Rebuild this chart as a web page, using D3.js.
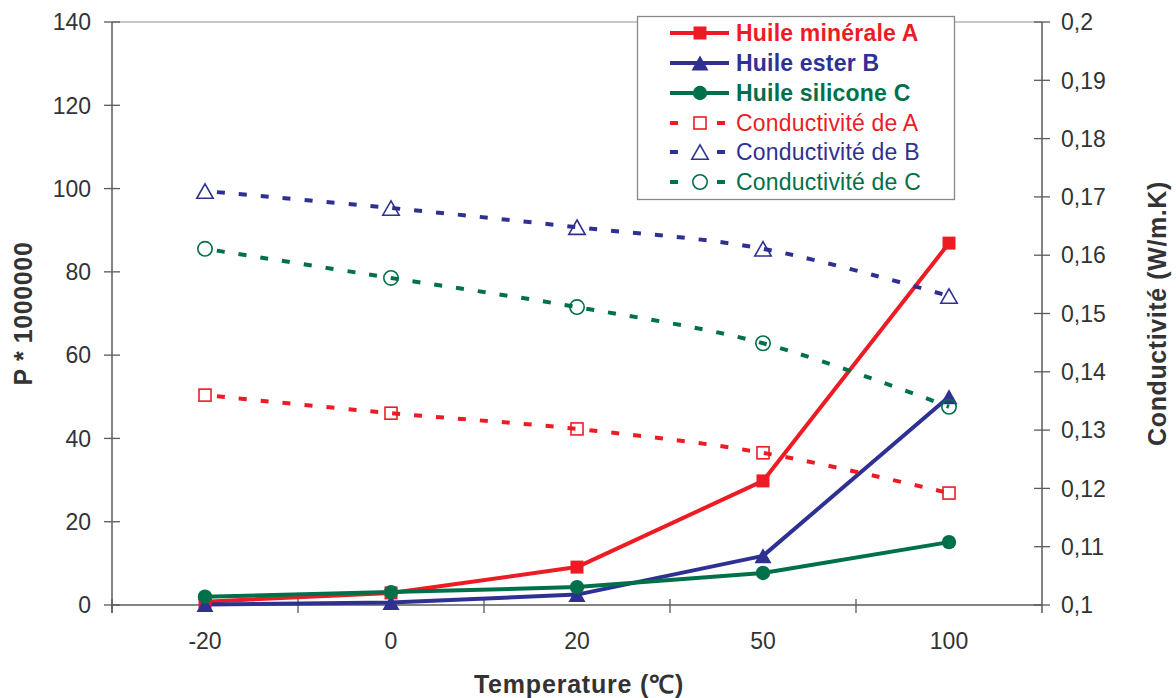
<!DOCTYPE html>
<html>
<head>
<meta charset="utf-8">
<script src="https://cdn.jsdelivr.net/npm/d3@7"></script>
<style>
  html, body { margin: 0; padding: 0; background: #fff; }
  svg { display: block; font-family: "Liberation Sans", Arial, sans-serif; }
</style>
</head>
<body>
<svg id="chart" width="1176" height="698"></svg>
<script>
// ---- data ----
const categories = ["-20", "0", "20", "50", "100"];
const huileMineraleA = [0.8, 2.9, 9.1, 29.8, 86.9];
const huileEsterB = [0.1, 0.6, 2.5, 11.8, 50.0];
const huileSiliconeC = [2.0, 3.1, 4.3, 7.7, 15.1];
const conductiviteA = [0.1360, 0.1329, 0.1302, 0.1261, 0.1192];
const conductiviteB = [0.1710, 0.1681, 0.1648, 0.1611, 0.1530];
const conductiviteC = [0.1611, 0.1561, 0.1511, 0.1449, 0.1340];
const leftTicks = [0, 20, 40, 60, 80, 100, 120, 140];
const rightTicks = [0.1, 0.11, 0.12, 0.13, 0.14, 0.15, 0.16, 0.17, 0.18, 0.19, 0.2];
const seriesNames = ["Huile minérale A", "Huile ester B", "Huile silicone C",
                     "Conductivité de A", "Conductivité de B", "Conductivité de C"];

const RED = "#ed1c24", BLUE = "#2e3192", GREEN = "#00704a";
const AXIS = "#5a5a5a", TEXT = "#333333";

const svg = d3.select("#chart");
const L = 112, R = 1042, T = 22, B = 605;

const x = d3.scaleBand().domain(categories).range([L, R]);
const xc = c => x(c) + x.bandwidth() / 2;
const yL = d3.scaleLinear().domain([0, 140]).range([B, T]);
const yR = d3.scaleLinear().domain([0.1, 0.2]).range([B, T]);

// top border line
svg.append("line").attr("x1", L).attr("x2", R).attr("y1", T).attr("y2", T)
  .attr("stroke", "#9a8c88").attr("stroke-width", 1.2);

// left axis
const gL = svg.append("g");
gL.append("line").attr("x1", L).attr("x2", L).attr("y1", T).attr("y2", B + 8)
  .attr("stroke", AXIS).attr("stroke-width", 1.5);
leftTicks.forEach(t => {
  gL.append("line").attr("x1", L - 8).attr("x2", L + 8).attr("y1", yL(t)).attr("y2", yL(t))
    .attr("stroke", AXIS).attr("stroke-width", 1.3);
  gL.append("text").attr("x", 91).attr("y", yL(t)).attr("dy", "0.36em")
    .attr("text-anchor", "end").attr("font-size", 23).attr("fill", TEXT).text(t);
});

// right axis
const gR = svg.append("g");
gR.append("line").attr("x1", R).attr("x2", R).attr("y1", T).attr("y2", B + 8)
  .attr("stroke", AXIS).attr("stroke-width", 1.5);
rightTicks.forEach(t => {
  gR.append("line").attr("x1", R - 8).attr("x2", R + 8).attr("y1", yR(t)).attr("y2", yR(t))
    .attr("stroke", AXIS).attr("stroke-width", 1.3);
  gR.append("text").attr("x", 1061).attr("y", yR(t)).attr("dy", "0.36em")
    .attr("text-anchor", "start").attr("font-size", 23).attr("fill", TEXT)
    .text(String(+t.toFixed(2)).replace(".", ","));
});

// bottom axis
const gB = svg.append("g");
gB.append("line").attr("x1", L).attr("x2", R).attr("y1", B).attr("y2", B)
  .attr("stroke", AXIS).attr("stroke-width", 1.5);
categories.forEach((c, i) => {
  gB.append("line").attr("x1", x(c)).attr("x2", x(c)).attr("y1", B - 6).attr("y2", B + 8)
    .attr("stroke", AXIS).attr("stroke-width", 1.3);
  gB.append("text").attr("x", xc(c)).attr("y", 649).attr("text-anchor", "middle")
    .attr("font-size", 23).attr("fill", TEXT).text(c);
});

// axis titles
svg.append("text").attr("transform", `translate(32,${(T + B) / 2}) rotate(-90)`)
  .attr("text-anchor", "middle").attr("font-size", 25).attr("font-weight", "bold")
  .attr("letter-spacing", 0.6).attr("fill", TEXT).text("P * 1000000");
svg.append("text").attr("transform", `translate(1166,${(T + B) / 2}) rotate(-90)`)
  .attr("text-anchor", "middle").attr("font-size", 25).attr("font-weight", "bold")
  .attr("letter-spacing", 0.6).attr("fill", TEXT).text("Conductivité (W/m.K)");
svg.append("text").attr("x", 579).attr("y", 693)
  .attr("text-anchor", "middle").attr("font-size", 25).attr("font-weight", "bold")
  .attr("letter-spacing", 0.8).attr("fill", TEXT).text("Temperature (℃)");

// marker drawers
function marker(g, type, cx, cy, color, filled) {
  const sw = filled ? 0 : 1.6;
  if (type === "square") {
    const s = filled ? 13 : 12;
    g.append("rect").attr("x", cx - s / 2).attr("y", cy - s / 2).attr("width", s).attr("height", s)
      .attr("fill", filled ? color : "none").attr("stroke", color).attr("stroke-width", sw);
  } else if (type === "triangle") {
    const h = filled ? 7.5 : 7.2, w = filled ? 8.5 : 8.2;
    g.append("path").attr("d", `M${cx},${cy - h}L${cx + w},${cy + h}L${cx - w},${cy + h}Z`)
      .attr("fill", filled ? color : "none").attr("stroke", color).attr("stroke-width", sw);
  } else {
    g.append("circle").attr("cx", cx).attr("cy", cy).attr("r", 7.2)
      .attr("fill", filled ? color : "none").attr("stroke", color).attr("stroke-width", sw);
  }
}

const solidSeries = [
  { vals: huileMineraleA, color: RED, m: "square" },
  { vals: huileEsterB, color: BLUE, m: "triangle" },
  { vals: huileSiliconeC, color: GREEN, m: "circle" }
];
const condSeries = [
  { vals: conductiviteA, color: RED, m: "square" },
  { vals: conductiviteB, color: BLUE, m: "triangle" },
  { vals: conductiviteC, color: GREEN, m: "circle" }
];

const plot = svg.append("g");
solidSeries.forEach(s => {
  const line = d3.line().x((d, i) => xc(categories[i])).y(d => yL(d));
  plot.append("path").attr("d", line(s.vals)).attr("fill", "none")
    .attr("stroke", s.color).attr("stroke-width", 4).attr("stroke-linejoin", "round");
});
solidSeries.forEach(s => {
  s.vals.forEach((v, i) => marker(plot, s.m, xc(categories[i]), yL(v), s.color, true));
});
condSeries.forEach(s => {
  const line = d3.line().x((d, i) => xc(categories[i])).y(d => yR(d)).curve(d3.curveCatmullRom.alpha(0.5));
  plot.append("path").attr("d", line(s.vals)).attr("fill", "none")
    .attr("stroke", s.color).attr("stroke-width", 4).attr("stroke-dasharray", "8,14")
    .attr("stroke-dashoffset", -12);
  s.vals.forEach((v, i) => marker(plot, s.m, xc(categories[i]), yR(v), s.color, false));
});

// legend
const lg = svg.append("g");
lg.append("rect").attr("x", 637.5).attr("y", 16.5).attr("width", 317).attr("height", 183)
  .attr("fill", "#fff").attr("stroke", "#888").attr("stroke-width", 1.3);
const rowY = [33, 63, 93, 123, 152, 182];
const allSeries = solidSeries.concat(condSeries);
allSeries.forEach((s, i) => {
  const yy = rowY[i];
  if (i < 3) {
    lg.append("line").attr("x1", 670).attr("x2", 729).attr("y1", yy).attr("y2", yy)
      .attr("stroke", s.color).attr("stroke-width", 4);
    marker(lg, s.m, 700, yy, s.color, true);
  } else {
    lg.append("line").attr("x1", 670).attr("x2", 678).attr("y1", yy).attr("y2", yy)
      .attr("stroke", s.color).attr("stroke-width", 4);
    lg.append("line").attr("x1", 717).attr("x2", 725).attr("y1", yy).attr("y2", yy)
      .attr("stroke", s.color).attr("stroke-width", 4);
    marker(lg, s.m, 700, yy, s.color, false);
  }
  lg.append("text").attr("x", 736).attr("y", yy).attr("dy", "0.36em")
    .attr("font-size", 23).attr("font-weight", i < 3 ? "bold" : "normal")
    .attr("letter-spacing", 0.2)
    .attr("fill", s.color).text(seriesNames[i]);
});
</script>
</body>
</html>
